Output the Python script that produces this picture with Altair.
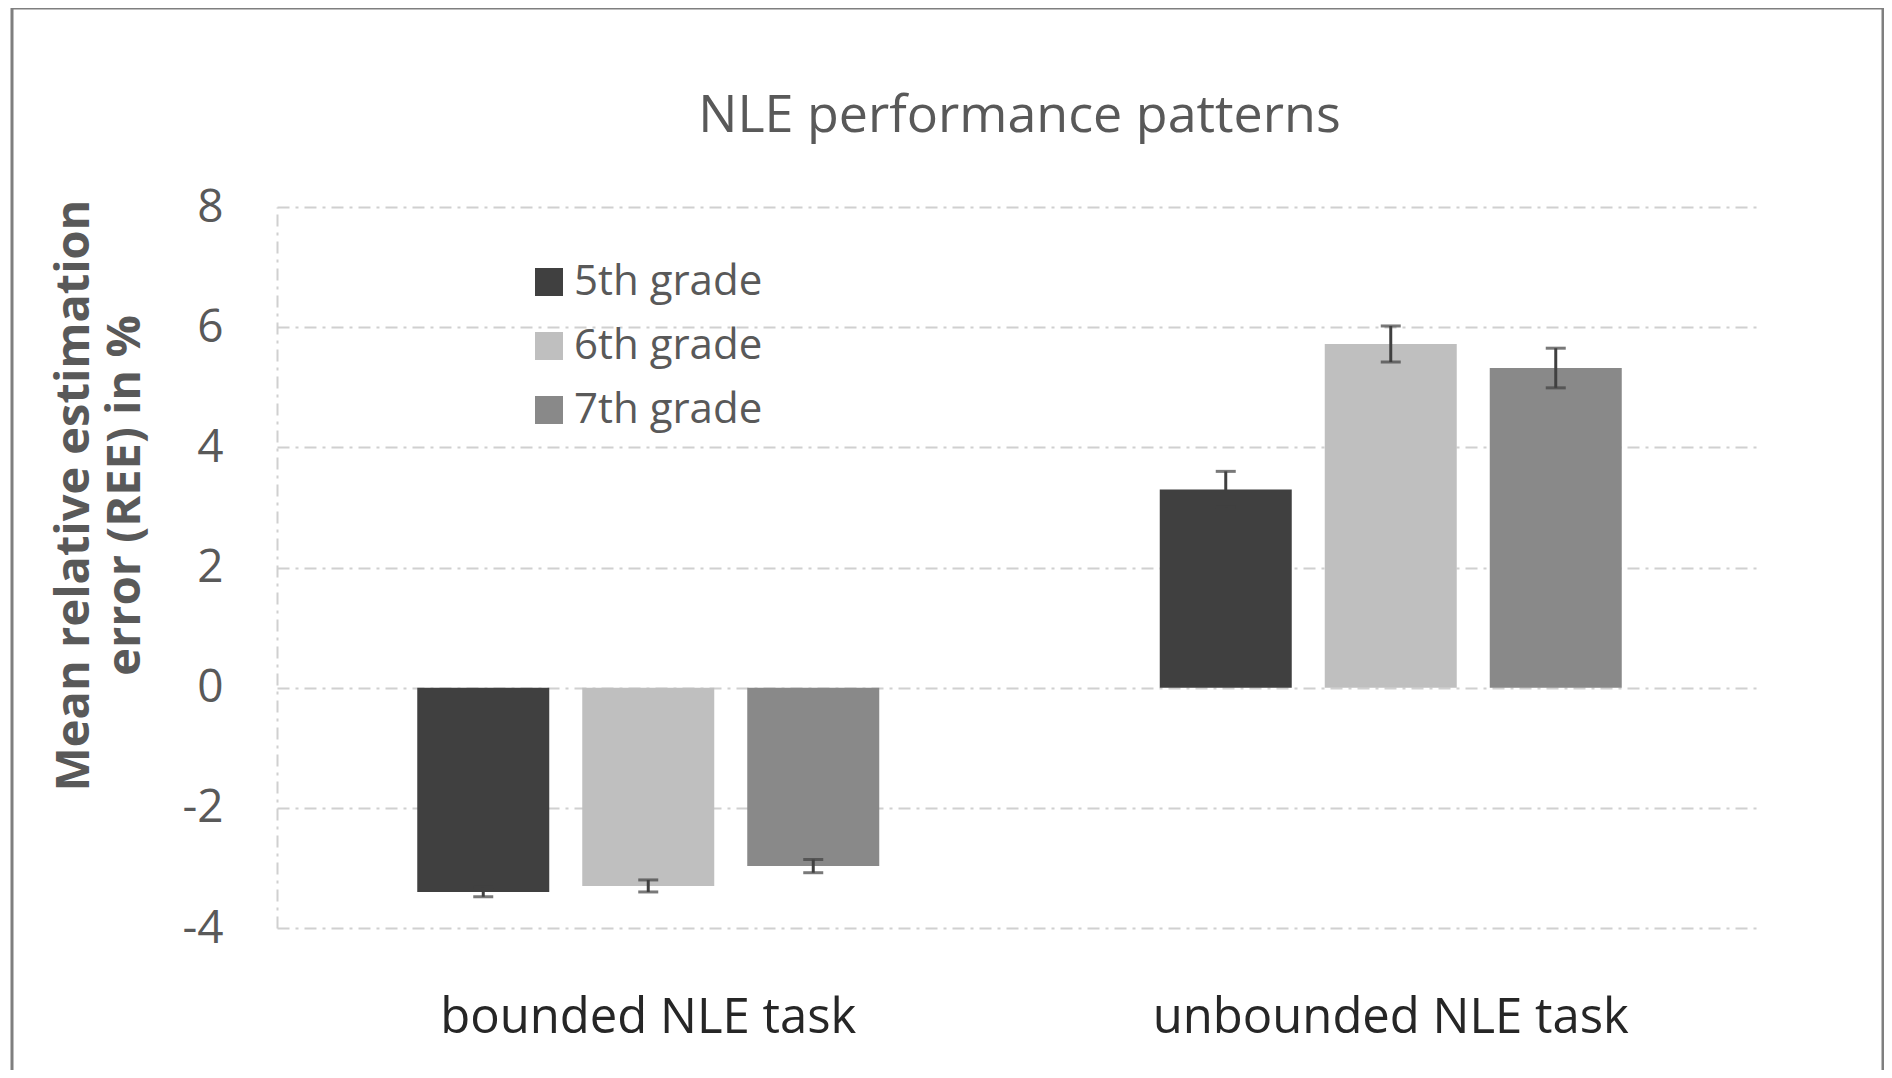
import altair as alt
import pandas as pd

tasks = ["bounded NLE task", "unbounded NLE task"]
grades = ["5th grade", "6th grade", "7th grade"]
bounded_means = [-3.40, -3.30, -2.97]
bounded_err = [0.08, 0.10, 0.11]
unbounded_means = [3.30, 5.72, 5.32]
unbounded_err = [0.30, 0.30, 0.33]
grade_colors = ["#404040", "#bfbfbf", "#898989"]
y_ticks = [-4, -2, 0, 2, 4, 6, 8]

rows = []
for t, means, errs in [(tasks[0], bounded_means, bounded_err), (tasks[1], unbounded_means, unbounded_err)]:
    for g, m, e in zip(grades, means, errs):
        rows.append({"task": t, "grade": g, "mean": m, "lo": m - e, "hi": m + e})
df = pd.DataFrame(rows)

FONT = "Open Sans"
W, H = 1485, 721

x_enc = alt.X("task:N", sort=tasks, scale=alt.Scale(paddingInner=0, paddingOuter=0),
              axis=alt.Axis(title=None, labelAngle=0, labelFont=FONT, labelFontSize=49,
                            labelColor="#262626", ticks=False, tickSize=0, domain=False,
                            labelPadding=104, labelBaseline="alphabetic", grid=False,
                            labelLimit=0))
xo_enc = alt.XOffset("grade:N", sort=grades, scale=alt.Scale(paddingInner=0.2, paddingOuter=0.85))

base = alt.Chart(df)

bars = base.mark_bar().encode(
    x=x_enc,
    xOffset=xo_enc,
    y=alt.Y("mean:Q", scale=alt.Scale(domain=[-4, 8], nice=False, zero=False),
            axis=alt.Axis(values=y_ticks, labelExpr="'' + datum.value",
                          title=["Mean relative estimation", "error (REE) in %"],
                          titleFont=FONT, titleFontSize=47, titleFontWeight="bold",
                          titleColor="#595959", titleLineHeight=51, titleAngle=270,
                          titleAlign="center", titleBaseline="middle",
                          titleX=-203, titleY=288, titleLimit=0,
                          labelFont=FONT, labelFontSize=46, labelColor="#595959",
                          labelPadding=54, ticks=False, tickSize=0,
                          domain=True, domainColor="#d0d0d0", domainWidth=2,
                          domainDash=[12, 6, 3, 6],
                          grid=True, gridColor="#d0d0d0", gridWidth=2,
                          gridDash=[12, 6, 3, 6])),
    color=alt.Color("grade:N", sort=grades,
                    scale=alt.Scale(domain=grades, range=grade_colors),
                    legend=alt.Legend(title=None, orient="none", legendX=251, legendY=54,
                                      symbolType="square", symbolSize=784,
                                      symbolStrokeWidth=0, labelFont=FONT,
                                      labelFontSize=42, labelColor="#595959",
                                      labelOffset=4, rowPadding=22, padding=0,
                                      labelLimit=0)),
)

rules = base.mark_rule(color="#404040", strokeWidth=3).encode(
    x=alt.X("task:N", sort=tasks),
    xOffset=xo_enc,
    y="lo:Q",
    y2="hi:Q",
)
caps_lo = base.mark_tick(color="#404040", thickness=3, size=20).encode(
    x=alt.X("task:N", sort=tasks), xOffset=xo_enc, y="lo:Q")
caps_hi = base.mark_tick(color="#404040", thickness=3, size=20).encode(
    x=alt.X("task:N", sort=tasks), xOffset=xo_enc, y="hi:Q")

frame = alt.Chart(alt.Data(values=[{"f": 1}])).mark_rect(
    filled=False, stroke="#7f7f7f", strokeWidth=3
).encode(
    x=alt.value(-265), x2=alt.value(1606), y=alt.value(-199), y2=alt.value(950)
)

chart = alt.layer(frame, bars, rules, caps_lo, caps_hi).properties(
    width=W, height=H,
    background="white",
    title=alt.TitleParams("NLE performance patterns", font=FONT, fontSize=52,
                          fontWeight="normal", color="#595959", anchor="middle",
                          frame="group", baseline="alphabetic", offset=0, dy=177),
    autosize=alt.AutoSizeParams(type="none"),
    padding={"left": 269, "top": 199, "right": 122, "bottom": 142},
).configure_view(stroke=None)

chart.save("out.html", embed_options={"renderer": "svg", "actions": False})
